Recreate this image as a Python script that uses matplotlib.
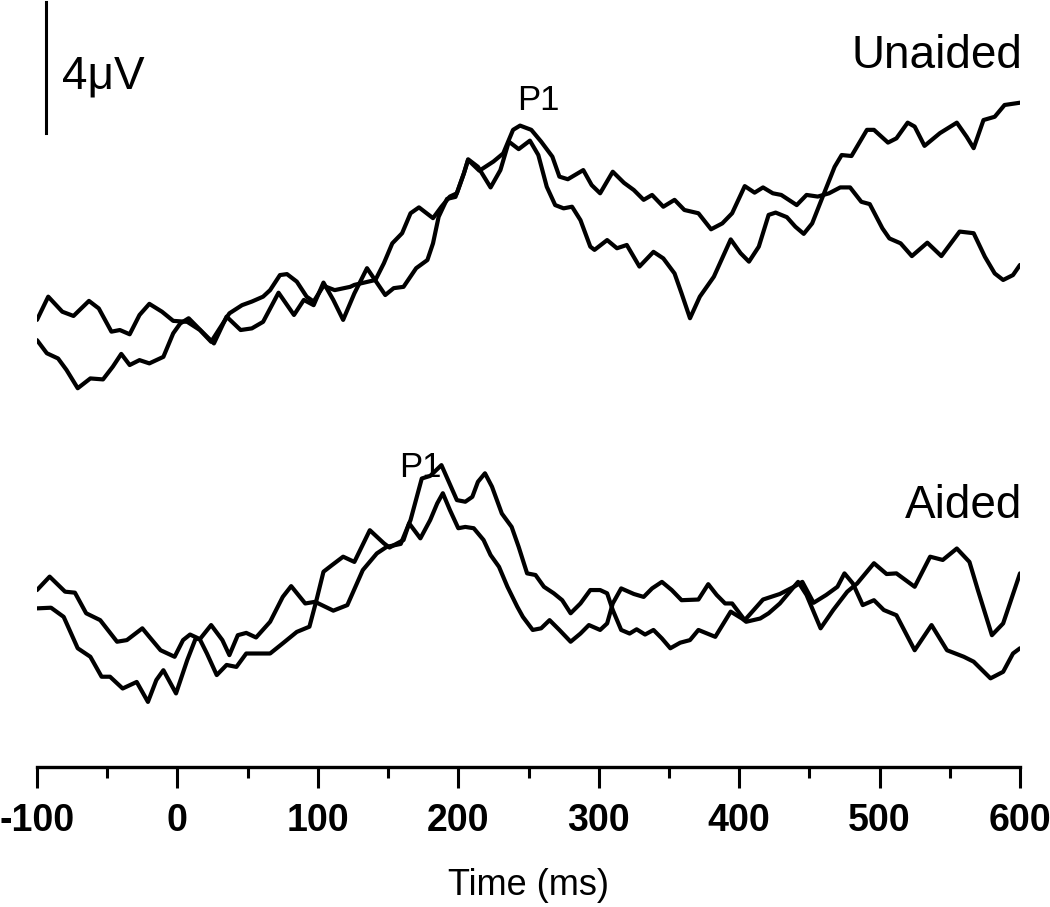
import numpy as np
import matplotlib
matplotlib.use("Agg")
import matplotlib.pyplot as plt

plt.rcParams["font.family"] = ["Liberation Sans", "DejaVu Sans"]
plt.rcParams["axes.unicode_minus"] = False

# Unaided condition, two traces (time in ms, amplitude in uV)
unaided_1_t = [-100, -92, -82, -74, -63, -56, -47, -41, -34, -27, -20, -11, -3, 7, 16, 24,
               37, 46, 53, 61, 66, 73, 78, 85, 92, 97, 104, 112, 123, 126, 141, 147, 153,
               160, 166, 172, 182, 188, 194, 199, 204, 207, 214, 223, 230, 236, 243, 251,
               257, 263, 269, 275, 281, 287, 294, 297, 306, 313, 320, 329, 339, 346, 354,
               359, 365, 372, 382, 394, 401, 407, 414, 421, 426, 434, 440, 446, 452, 460,
               468, 473, 480, 491, 496, 506, 512, 520, 525, 532, 543, 555, 562, 567, 574,
               582, 589, 600]
unaided_1_v = [0.31, 1.02, 0.56, 0.43, 0.89, 0.66, -0.05, 0.0, -0.13, 0.46, 0.80, 0.56, 0.28,
               0.25, 0.0, -0.36, 0.51, 0.76, 0.87, 1.02, 1.22, 1.68, 1.71, 1.48, 1.02, 0.87,
               1.35, 1.22, 1.32, 1.38, 1.53, 2.04, 2.65, 2.96, 3.57, 3.75, 3.42, 3.77, 4.08,
               4.18, 4.79, 5.22, 4.99, 4.36, 4.89, 5.76, 5.53, 5.79, 5.35, 4.38, 3.82, 3.72,
               3.77, 3.36, 2.55, 2.45, 2.75, 2.50, 2.60, 1.94, 2.39, 2.19, 1.73, 1.12, 0.36,
               1.02, 1.63, 2.77, 2.35, 2.09, 2.55, 3.52, 3.59, 3.45, 3.16, 2.94, 3.26, 4.13,
               4.99, 5.35, 5.32, 6.12, 6.12, 5.73, 5.86, 6.34, 6.22, 5.63, 6.02, 6.34, 5.91,
               5.56, 6.42, 6.52, 6.88, 6.95]

unaided_2_t = [-100, -93, -85, -79, -71, -62, -53, -46, -40, -34, -27, -20, -10, -3, 2, 8, 14,
               21, 26, 35, 45, 53, 61, 72, 83, 90, 97, 104, 111, 118, 126, 135, 148, 154, 161,
               170, 178, 182, 186, 192, 198, 204, 207, 215, 225, 232, 239, 244, 252, 259, 267,
               272, 278, 289, 295, 301, 310, 318, 325, 332, 338, 346, 354, 361, 371, 380, 388,
               395, 404, 411, 417, 424, 430, 441, 448, 456, 464, 472, 479, 487, 493, 502, 507,
               515, 523, 534, 544, 557, 567, 575, 582, 588, 595, 600]
unaided_2_v = [-0.31, -0.71, -0.87, -1.22, -1.78, -1.48, -1.51, -1.12, -0.73, -1.07, -0.92,
               -1.02, -0.82, -0.10, 0.20, 0.36, 0.10, -0.20, -0.41, 0.41, 0.0, 0.05, 0.25,
               1.14, 0.46, 0.92, 0.76, 1.45, 0.92, 0.31, 1.12, 1.89, 1.07, 1.28, 1.32, 1.89,
               2.14, 2.65, 3.46, 4.01, 4.07, 4.79, 5.20, 4.87, 5.15, 5.40, 6.12, 6.25, 6.12,
               5.76, 5.30, 4.69, 4.61, 4.89, 4.43, 4.18, 4.84, 4.50, 4.28, 3.98, 4.13, 3.77,
               3.98, 3.67, 3.57, 3.08, 3.26, 3.57, 4.40, 4.20, 4.36, 4.18, 4.13, 3.82, 4.13,
               4.08, 4.18, 4.36, 4.36, 3.92, 3.85, 3.11, 2.80, 2.65, 2.26, 2.67, 2.26, 3.01,
               2.96, 2.24, 1.73, 1.53, 1.68, 1.99]

# Aided condition, two traces
aided_1_t = [-100, -91, -80, -73, -65, -55, -43, -36, -25, -20, -12, -2, 4, 9, 16, 24, 32, 37,
             43, 49, 56, 66, 75, 81, 91, 98, 111, 121, 132, 142, 149, 159, 166, 174, 180, 188,
             199, 205, 210, 214, 219, 224, 231, 238, 243, 249, 255, 261, 268, 274, 280, 287,
             294, 301, 306, 310, 316, 322, 327, 333, 339, 345, 351, 358, 365, 371, 383, 394,
             402, 405, 415, 421, 429, 439, 442, 448, 458, 467, 477, 484, 496, 505, 512, 525,
             536, 545, 555, 564, 570, 580, 588, 600]
aided_1_v = [1.53, 1.94, 1.48, 1.45, 0.82, 0.61, -0.05, 0.0, 0.36, 0.10, -0.31, -0.51, 0.0,
             0.17, 0.03, 0.46, 0.0, -0.46, 0.15, 0.22, 0.08, 0.56, 1.32, 1.65, 1.12, 1.17,
             0.90, 1.07, 2.14, 2.65, 2.85, 2.94, 3.67, 4.94, 5.02, 5.35, 4.28, 4.23, 4.38,
             4.84, 5.10, 4.69, 3.87, 3.46, 2.85, 2.04, 1.99, 1.63, 1.43, 1.22, 0.82, 1.12,
             1.53, 1.53, 1.43, 0.92, 0.31, 0.20, 0.33, 0.17, 0.31, 0.05, -0.25, -0.08, 0.0,
             0.31, 0.10, 0.87, 0.66, 0.56, 0.66, 0.82, 1.12, 1.63, 1.78, 1.38, 0.36, 0.92,
             1.48, 1.73, 2.35, 2.02, 2.04, 1.63, 2.55, 2.45, 2.80, 2.39, 1.53, 0.15, 0.51,
             2.04]

aided_2_t = [-100, -90, -81, -71, -62, -54, -48, -39, -29, -21, -15, -10, -1, 7, 13, 16, 21,
             28, 35, 42, 49, 66, 75, 85, 94, 99, 104, 110, 118, 126, 137, 147, 151, 161, 165,
             173, 180, 185, 189, 194, 200, 205, 211, 218, 223, 229, 235, 242, 246, 253, 259,
             265, 272, 280, 287, 293, 301, 306, 310, 316, 325, 332, 338, 345, 352, 359, 371,
             378, 384, 390, 395, 404, 417, 429, 439, 445, 453, 462, 470, 475, 481, 488, 496,
             503, 512, 525, 537, 548, 560, 567, 579, 588, 595, 600]
aided_2_v = [0.97, 0.99, 0.71, -0.25, -0.51, -1.12, -1.12, -1.48, -1.28, -1.89, -1.22, -0.92,
             -1.63, -0.61, 0.05, 0.02, -0.41, -1.07, -0.76, -0.82, -0.41, -0.41, -0.10, 0.25,
             0.41, 1.22, 2.09, 2.29, 2.55, 2.39, 3.36, 2.96, 2.83, 3.06, 3.57, 3.11, 3.67,
             4.18, 4.49, 3.98, 3.42, 3.46, 3.42, 3.06, 2.60, 2.24, 1.63, 1.02, 0.71, 0.31,
             0.36, 0.61, 0.31, -0.05, 0.20, 0.46, 0.31, 0.51, 1.12, 1.58, 1.41, 1.32, 1.58,
             1.78, 1.53, 1.22, 1.24, 1.71, 1.38, 1.12, 1.12, 0.61, 1.24, 1.41, 1.63, 1.78,
             1.14, 1.38, 1.63, 2.04, 1.73, 1.07, 1.22, 0.92, 0.76, -0.31, 0.46, -0.31, -0.51,
             -0.66, -1.17, -0.97, -0.41, -0.25]

ticks = [-100, 0, 100, 200, 300, 400, 500, 600]
tick_labels = ["-100", "0", "100", "200", "300", "400", "500", "600"]

aided_offset = -9.48  # vertical shift of the aided panel (uV)

fig = plt.figure(figsize=(10.5, 9.07), dpi=100)
ax = fig.add_axes([37 / 1050, 140 / 907, 983 / 1050, 767 / 907])

lw = 3.0
style = dict(color="black", lw=lw, solid_joinstyle="round", solid_capstyle="round")
ax.plot(unaided_1_t, unaided_1_v, **style)
ax.plot(unaided_2_t, unaided_2_v, **style)
ax.plot(aided_1_t, np.array(aided_1_v) + aided_offset, **style)
ax.plot(aided_2_t, np.array(aided_2_v) + aided_offset, **style)

# 4 uV scale bar
ax.plot([-93.7, -93.7], [6.03, 10.03], color="black", lw=2.2, clip_on=False)
ax.text(-82, 7.37, "4\u03bcV", fontsize=33, ha="left", va="baseline")

ax.text(601.4, 8.01, "Unaided", fontsize=33, ha="right", va="baseline", clip_on=False)
ax.text(256.8, 6.73, "P1", fontsize=25, ha="center", va="baseline")
ax.text(172.8, -4.50, "P1", fontsize=25, ha="center", va="baseline")
ax.text(601.4, -5.75, "Aided", fontsize=33, ha="right", va="baseline", clip_on=False)

ax.set_xlim(-100, 600)
ax.set_ylim(-13.36, 10.09)
for side in ["left", "right", "top"]:
    ax.spines[side].set_visible(False)
ax.spines["bottom"].set_linewidth(2.4)
ax.set_yticks([])
ax.set_xticks(ticks)
ax.set_xticklabels(tick_labels, fontsize=27, fontweight="bold")
ax.set_xticks(np.arange(-50, 600, 100), minor=True)
ax.tick_params(axis="x", which="major", length=15, width=2.2, pad=11)
ax.tick_params(axis="x", which="minor", length=8, width=2.2)
ax.set_xlabel("Time (ms)", fontsize=26, labelpad=21)

fig.savefig("out.png", dpi=100)
